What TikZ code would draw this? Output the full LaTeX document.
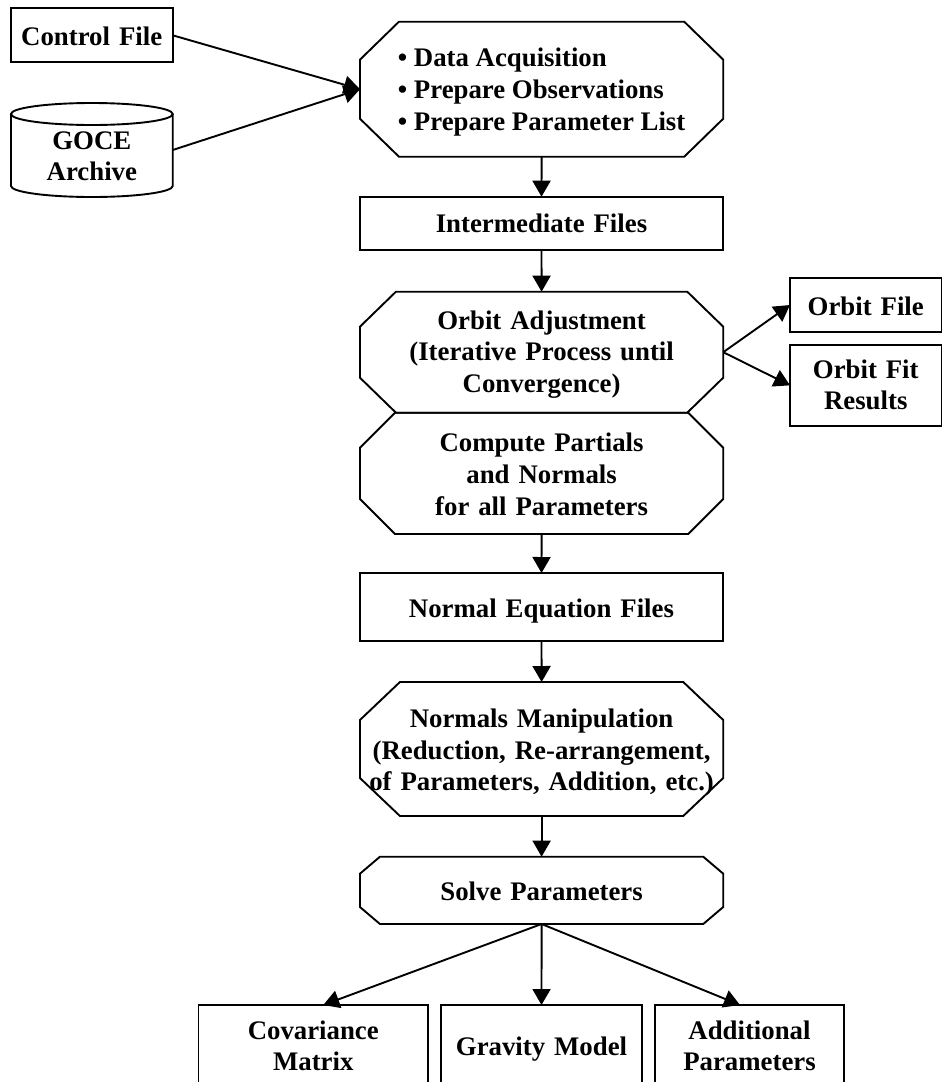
\documentclass[tikz,border=0pt]{standalone}
\usepackage{fontspec}
\setmainfont{Liberation Serif}
\usetikzlibrary{arrows.meta}

% octagonal outline around a (undrawn) rectangular node: #1 node, #2 x-chamfer, #3 y-chamfer
\newcommand\octframe[3]{%
  \draw[outline] ([xshift=#2]#1.north west) -- ([xshift=-#2]#1.north east)
    -- ([yshift=-#3]#1.north east) -- ([yshift=#3]#1.south east)
    -- ([xshift=-#2]#1.south east) -- ([xshift=#2]#1.south west)
    -- ([yshift=#3]#1.south west) -- ([yshift=-#3]#1.north west) -- cycle;}

\begin{document}
\begin{tikzpicture}[x=1pt,y=-1pt,
  outline/.style={line width=1.9pt, line join=miter},
  lbl/.style={font=\bfseries\fontsize{26.8}{31.7}\selectfont, inner sep=0pt,
    outer sep=0pt, align=center, text height=30pt},
  td/.style={text depth=#1pt},
  box/.style={lbl, rectangle, draw, outline},
  frame/.style={lbl, rectangle},
  arr/.style={line width=1.9pt, -{Triangle[length=16pt,width=18pt]}}]

\fill[white] (0,0) rectangle (943,1082);
\useasboundingbox (0,0) rectangle (943,1082);

% inputs
\node[box, minimum width=162pt, minimum height=54pt, text width=162pt, td=10.6]
  (cf) at (91.7,35.3) {Control File};
\node[frame, minimum width=161.7pt, minimum height=94pt, text width=161.7pt, td=32]
  (goce) at (91.85,150) {GOCE\\Archive};
\draw[outline] ([yshift=-11pt]goce.north) ellipse [x radius=80.85pt, y radius=11pt];
\draw[outline] ([yshift=-11pt]goce.north west) -- ([yshift=11pt]goce.south west)
  arc[start angle=180, end angle=360, x radius=80.85pt, y radius=11pt]
  -- ([yshift=-11pt]goce.north east);

% main chain (left-aligned list: box baseline is the last line)
\node[frame, minimum width=363.3pt, minimum height=135pt,
  align=left, text height=100pt, td=18.4] (acq) at (541.6,89.2)
  {• Data Acquisition\\• Prepare Observations\\• Prepare Parameter List};
\octframe{acq}{39pt}{38pt}

\node[box, minimum width=363pt, minimum height=53.3pt, text width=363pt, td=10.8]
  (inter) at (541.5,223.35) {Intermediate Files};

\node[frame, minimum width=363.3pt, minimum height=121pt, text width=363pt, td=76.4]
  (orb) at (541.6,352.2) {Orbit Adjustment\\(Iterative Process until\\Convergence)};
\octframe{orb}{36pt}{35pt}

\node[frame, minimum width=363.3pt, minimum height=121.3pt, text width=363pt, td=73.4]
  (part) at (541.6,473.35) {Compute Partials\\and Normals\\for all Parameters};
\octframe{part}{35pt}{35pt}

\node[box, minimum width=363pt, minimum height=67.7pt, text width=363pt, td=7.8]
  (neq) at (541.5,606.85) {Normal Equation Files};

\node[frame, minimum width=363.3pt, minimum height=134pt, text width=363pt, td=73.4]
  (manip) at (541.6,749) {Normals Manipulation\\(Reduction, Re-arrangement,\\of Parameters, Addition, etc.)};
\octframe{manip}{40pt}{38pt}

\node[frame, minimum width=363.3pt, minimum height=67.3pt, text width=363pt, td=10.6]
  (solve) at (541.6,890.35) {Solve Parameters};
\octframe{solve}{20pt}{17pt}

% orbit outputs
\node[box, minimum width=151.5pt, minimum height=53.4pt, text width=151.5pt, td=10]
  (ofile) at (865.75,305) {Orbit File};
\node[box, minimum width=151.5pt, minimum height=80.7pt, text width=151.5pt, td=44.6]
  (ofit) at (865.75,385.35) {Orbit Fit\\Results};

% final products
\node[box, minimum width=229.5pt, minimum height=100pt, text width=229.5pt, td=62]
  (cov) at (313.25,1055) {Covariance\\Matrix};
\node[box, minimum width=201pt, minimum height=100pt, text width=201pt, td=30]
  (grav) at (541.5,1055) {Gravity Model};
\node[box, minimum width=189pt, minimum height=100pt, text width=189pt, td=62]
  (addp) at (749.5,1055) {Additional\\Parameters};

% connectors
\draw[arr] (cf.east) -- (acq.west);
\draw[arr] (goce.east) -- (acq.west);
\draw[arr] (acq.south) -- (inter.north);
\draw[arr] (inter.south) -- (orb.north);
\draw[arr] (orb.east) -- (ofile.west);
\draw[arr] (orb.east) -- (ofit.west);
\draw[arr] (part.south) -- (neq.north);
\draw[arr] (neq.south) -- (manip.north);
\draw[arr] (manip.south) -- (solve.north);
\draw[arr] (solve.south) -- ([xshift=10pt]cov.north);
\draw[arr] (solve.south) -- (grav.north);
\draw[arr] (solve.south) -- ([xshift=-9.5pt]addp.north);
\end{tikzpicture}
\end{document}
